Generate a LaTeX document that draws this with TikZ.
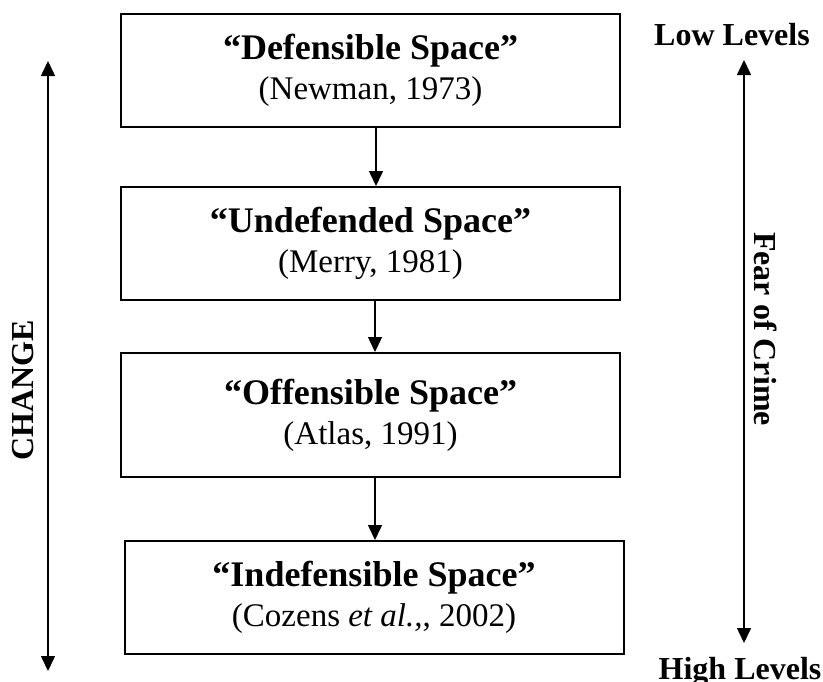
\documentclass[tikz,border=0pt]{standalone}
\usepackage{fontspec}
\setmainfont{Liberation Serif}
\usetikzlibrary{arrows.meta,positioning}
\tikzset{
  >={Triangle[length=7.5pt,width=7pt]},
  spacebox/.style={rectangle,draw,line width=1pt,minimum width=249.5pt,minimum height=56.5pt,
    align=center,font=\fontsize{16.5}{20}\selectfont},
  flow/.style={->, line width=0.75pt},
  both/.style={<->, line width=0.75pt},
  sidelbl/.style={font=\fontsize{16}{19}\selectfont\bfseries,inner sep=0pt}
}
\newcommand{\spacetitle}[1]{{\fontsize{18}{21}\selectfont\bfseries #1}}

\begin{document}
\begin{tikzpicture}[x=0.5pt,y=-0.5pt]
    \useasboundingbox (0,0) rectangle (823,681);

    % === The four kinds of space ===
    \node[spacebox] (b1) at (370.5,70.5) {\spacetitle{“Defensible Space”}\\(Newman, 1973)};
    \node[spacebox] (b2) at (370.5,243.5) {\spacetitle{“Undefended Space”}\\(Merry, 1981)};
    \node[spacebox,minimum height=62pt] (b3) at (370.5,415) {\spacetitle{“Offensible Space”}\\(Atlas, 1991)};
    \node[spacebox] (b4) at (374,597.5) {\spacetitle{“Indefensible Space”}\\(Cozens \textit{et al.,}, 2002)};

    % arrows between boxes
    \draw[flow] ([xshift=2.75pt]b1.south) -- ([xshift=2.75pt]b2.north);
    \draw[flow] ([xshift=2.25pt]b2.south) -- ([xshift=2.25pt]b3.north);
    \draw[flow] ([xshift=2.25pt]b3.south) -- ([xshift=0.5pt]b4.north);

    % === Left: change ===
    \coordinate (chtop) at (48,61);
    \coordinate (chbot) at (48,671);
    \draw[both] (chtop) -- (chbot);
    \node[sidelbl,rotate=90] (change) at (23,390) {CHANGE};

    % === Right: fear of crime ===
    \node[sidelbl] (low) at (732,35) {Low Levels};
    \node[sidelbl,anchor=north] (high) at (740,657) {High Levels};
    \coordinate (feartop) at (744,60);
    \coordinate (fearbot) at (744,643);
    \draw[both] (feartop) -- (fearbot);
    \node[sidelbl,rotate=-90] (fear) at (766,329) {Fear of Crime};

\end{tikzpicture}
\end{document}
